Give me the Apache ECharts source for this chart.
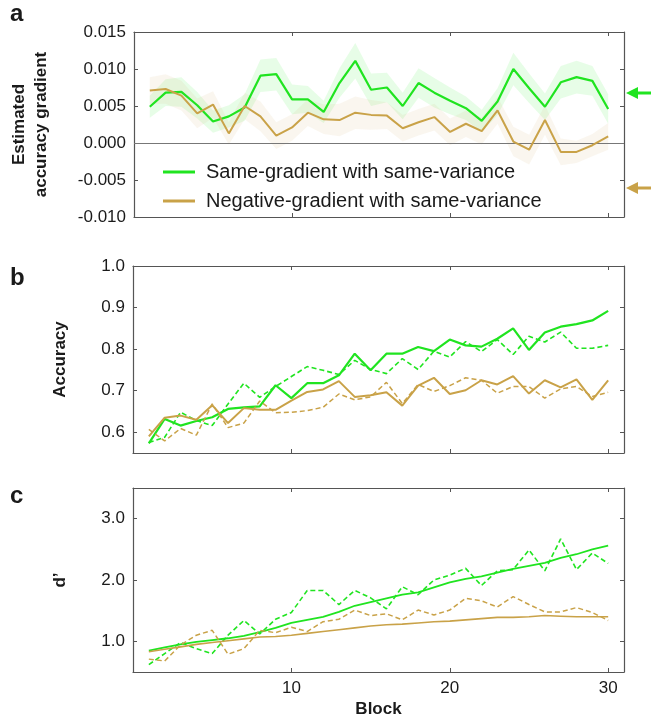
<!DOCTYPE html>
<html>
<head>
<meta charset="utf-8">
<script src="https://cdn.jsdelivr.net/npm/echarts@6/dist/echarts.min.js"></script>
<style>
html, body { margin: 0; padding: 0; background: #fff; }
#main { width: 651px; height: 719px; }
</style>
</head>
<body>
<div id="main"></div>
<script>
var blocks = [1,2,3,4,5,6,7,8,9,10,11,12,13,14,15,16,17,18,19,20,21,22,23,24,25,26,27,28,29,30];
var xTicks = [10, 20, 30];

// a: estimated accuracy gradient
var gradSame = [0.0049,0.0068,0.0069,0.0051,0.0029,0.0036,0.0048,0.0091,0.0093,0.0059,0.0059,0.0042,0.0081,0.0111,0.0072,0.0075,0.0050,0.0081,0.0068,0.0057,0.0047,0.0030,0.0056,0.0100,0.0074,0.0049,0.0082,0.0089,0.0084,0.0046];
var gradSameErr = [0.0015,0.0018,0.0020,0.0018,0.0015,0.0015,0.0018,0.0022,0.0022,0.0020,0.0018,0.0015,0.0020,0.0024,0.0022,0.0020,0.0018,0.0020,0.0020,0.0018,0.0016,0.0015,0.0018,0.0022,0.0020,0.0018,0.0022,0.0022,0.0020,0.0020];
var gradNeg = [0.0071,0.0073,0.0064,0.0040,0.0052,0.0013,0.0050,0.0036,0.0010,0.0021,0.0041,0.0032,0.0031,0.0041,0.0038,0.0037,0.0020,0.0028,0.0035,0.0015,0.0026,0.0016,0.0044,0.0002,-0.0009,0.0031,-0.0012,-0.0012,-0.0003,0.0009];
var gradNegErr = [0.0018,0.0020,0.0020,0.0020,0.0018,0.0015,0.0018,0.0020,0.0018,0.0018,0.0018,0.0020,0.0022,0.0022,0.0020,0.0018,0.0018,0.0018,0.0018,0.0018,0.0018,0.0018,0.0018,0.0020,0.0020,0.0020,0.0018,0.0015,0.0015,0.0018];
var gradTicks = [-0.010, -0.005, 0.000, 0.005, 0.010, 0.015];

// b: accuracy (solid and dashed curves)
var accSame = [0.573,0.632,0.616,0.627,0.636,0.656,0.660,0.662,0.713,0.682,0.718,0.718,0.737,0.789,0.749,0.789,0.789,0.805,0.795,0.823,0.809,0.806,0.825,0.850,0.798,0.840,0.854,0.860,0.869,0.892];
var accSameDash = [0.575,0.588,0.648,0.628,0.616,0.668,0.718,0.684,0.710,0.734,0.758,0.749,0.739,0.773,0.751,0.741,0.777,0.751,0.795,0.781,0.818,0.794,0.823,0.787,0.831,0.817,0.841,0.802,0.802,0.809];
var accNeg = [0.590,0.635,0.640,0.630,0.665,0.622,0.658,0.654,0.654,0.676,0.697,0.703,0.723,0.685,0.689,0.696,0.664,0.712,0.731,0.692,0.701,0.725,0.715,0.735,0.693,0.725,0.708,0.727,0.678,0.725];
var accNegDash = [0.607,0.579,0.609,0.593,0.668,0.611,0.622,0.675,0.647,0.648,0.652,0.660,0.692,0.678,0.685,0.720,0.669,0.715,0.698,0.712,0.731,0.725,0.694,0.710,0.710,0.682,0.704,0.710,0.686,0.696];
var accTicks = [0.6, 0.7, 0.8, 0.9, 1.0];

// c: d'
var dSame = [0.85,0.90,0.95,0.99,1.02,1.05,1.09,1.15,1.22,1.30,1.35,1.40,1.48,1.58,1.64,1.70,1.76,1.80,1.88,1.96,2.02,2.06,2.12,2.18,2.23,2.28,2.36,2.42,2.50,2.56];
var dSameDash = [0.62,0.80,0.98,0.88,0.80,1.10,1.34,1.12,1.36,1.47,1.83,1.83,1.60,1.83,1.71,1.53,1.89,1.76,2.00,2.08,2.19,1.91,2.15,2.17,2.49,2.15,2.67,2.17,2.44,2.27];
var dNeg = [0.83,0.87,0.91,0.95,0.98,1.01,1.04,1.07,1.08,1.10,1.13,1.16,1.19,1.22,1.25,1.27,1.28,1.30,1.32,1.33,1.35,1.37,1.39,1.39,1.40,1.42,1.41,1.40,1.40,1.40];
var dNegDash = [0.71,0.68,0.94,1.10,1.18,0.79,0.88,1.18,1.14,1.23,1.16,1.32,1.36,1.51,1.42,1.45,1.35,1.51,1.43,1.51,1.70,1.66,1.56,1.73,1.60,1.48,1.48,1.55,1.47,1.34];
var dTicks = [1, 2, 3];

var legendNames = ['Same-gradient with same-variance', 'Negative-gradient with same-variance'];

var GREEN = '#20e420';
var TAN = '#c9a248';
var FONT = 'Arial, "Liberation Sans", sans-serif';
var INK = '#1a1a1a';
var FRAME = '#555';

var myChart = echarts.init(document.getElementById('main'));

function pairs(ys) {
    return blocks.map(function (b, i) { return [b, ys[i]]; });
}

function xAxes(gi, showLabels) {
    var base = {
        type: 'value', gridIndex: gi, min: 0, max: 31,
        splitLine: { show: false },
        axisLine: { show: true, onZero: false, lineStyle: { color: FRAME, width: 1.2 } },
        axisTick: { show: true, inside: true, length: 4, customValues: xTicks, lineStyle: { color: FRAME } }
    };
    var bottom = echarts.util.merge({
        position: 'bottom',
        axisLabel: { show: showLabels, customValues: xTicks, fontSize: 17, color: INK, fontFamily: FONT, margin: 8 }
    }, base, true);
    if (showLabels) {
        bottom.name = 'Block';
        bottom.nameLocation = 'middle';
        bottom.nameGap = 29;
        bottom.nameTextStyle = { fontSize: 17, fontWeight: 'bold', color: INK, fontFamily: FONT };
    }
    var top = echarts.util.merge({ position: 'top', axisLabel: { show: false } }, base, true);
    return [bottom, top];
}

function yAxes(gi, min, max, ticks, digits, name, nameGap) {
    var base = {
        type: 'value', gridIndex: gi, min: min, max: max,
        splitLine: { show: false },
        axisLine: { show: true, onZero: false, lineStyle: { color: FRAME, width: 1.2 } },
        axisTick: { show: true, inside: true, length: 4, customValues: ticks, lineStyle: { color: FRAME } }
    };
    var left = echarts.util.merge({
        position: 'left',
        name: name,
        nameLocation: 'middle',
        nameGap: nameGap,
        nameTextStyle: { fontSize: 17, fontWeight: 'bold', color: INK, fontFamily: FONT, lineHeight: 22 },
        axisLabel: {
            customValues: ticks, fontSize: 17, color: INK, fontFamily: FONT, margin: 8,
            formatter: function (v) { return v.toFixed(digits); }
        }
    }, base, true);
    var right = echarts.util.merge({ position: 'right', axisLabel: { show: false } }, base, true);
    return [left, right];
}

function line(name, ys, color, dashed, width, gi) {
    return {
        name: name,
        type: 'line',
        xAxisIndex: gi * 2,
        yAxisIndex: gi * 2,
        data: pairs(ys),
        showSymbol: false,
        symbol: 'none',
        silent: true,
        z: 5,
        lineStyle: { color: color, width: width, type: dashed ? [5, 3] : 'solid' },
        itemStyle: { color: color }
    };
}

// shaded error band drawn as one polygon (upper edge forward, lower edge back)
function band(ys, err, fill) {
    return {
        type: 'custom',
        xAxisIndex: 0,
        yAxisIndex: 0,
        silent: true,
        z: 1,
        data: pairs(ys),
        clip: true,
        renderItem: function (params, api) {
            if (params.dataIndex !== 0) return null;
            var pts = [];
            for (var i = 0; i < blocks.length; i++) {
                pts.push(api.coord([blocks[i], ys[i] + err[i]]));
            }
            for (var j = blocks.length - 1; j >= 0; j--) {
                pts.push(api.coord([blocks[j], ys[j] - err[j]]));
            }
            return { type: 'polygon', shape: { points: pts }, style: { fill: fill } };
        }
    };
}

var gradSameLine = line(legendNames[0], gradSame, GREEN, false, 2.2, 0);
var gradNegLine = line(legendNames[1], gradNeg, TAN, false, 2, 0);
gradNegLine.markLine = {
    silent: true, symbol: 'none', label: { show: false },
    lineStyle: { color: '#777', width: 1, type: 'solid' },
    data: [{ yAxis: 0 }]
};

function arrow(y, color) {
    return {
        type: 'group',
        children: [
            { type: 'polygon', shape: { points: [[626, y], [638, y - 6], [638, y + 6]] }, style: { fill: color } },
            { type: 'rect', shape: { x: 636, y: y - 1.5, width: 15, height: 3 }, style: { fill: color } }
        ]
    };
}

function letter(txt, y) {
    return {
        type: 'text', left: 10, top: y,
        style: { text: txt, fontSize: 24, fontWeight: 'bold', fill: INK, fontFamily: FONT }
    };
}

option = {
    backgroundColor: '#fff',
    animation: false,
    textStyle: { fontFamily: FONT },
    grid: [
        { left: 133, right: 27, top: 32, height: 185 },
        { left: 133, right: 27, top: 266, height: 187 },
        { left: 133, right: 27, top: 488, height: 185 }
    ],
    xAxis: [].concat(xAxes(0, false), xAxes(1, false), xAxes(2, true)),
    yAxis: [].concat(
        yAxes(0, -0.010, 0.015, gradTicks, 3, 'Estimated\naccuracy gradient', 82),
        yAxes(1, 0.55, 1.0, accTicks, 1, 'Accuracy', 62),
        yAxes(2, 0.5, 3.5, dTicks, 1, 'd\u2019', 62)
    ),
    legend: {
        data: legendNames,
        orient: 'vertical',
        left: 158,
        top: 157,
        itemWidth: 32,
        itemHeight: 3,
        itemGap: 9,
        icon: 'rect',
        selectedMode: false,
        textStyle: { fontSize: 20, color: INK, fontFamily: FONT, padding: [0, 0, 0, 6] }
    },
    graphic: [
        letter('a', 2),
        letter('b', 266),
        letter('c', 484),
        arrow(93, GREEN),
        arrow(188, TAN)
    ],
    series: [
        band(gradSame, gradSameErr, 'rgba(60,235,60,0.12)'),
        band(gradNeg, gradNegErr, 'rgba(210,180,120,0.12)'),
        gradSameLine,
        gradNegLine,
        line('accSame', accSame, GREEN, false, 2.2, 1),
        line('accSameDash', accSameDash, GREEN, true, 1.6, 1),
        line('accNeg', accNeg, TAN, false, 2, 1),
        line('accNegDash', accNegDash, TAN, true, 1.5, 1),
        line('dSame', dSame, GREEN, false, 1.8, 2),
        line('dSameDash', dSameDash, GREEN, true, 1.6, 2),
        line('dNeg', dNeg, TAN, false, 1.6, 2),
        line('dNegDash', dNegDash, TAN, true, 1.5, 2)
    ]
};

myChart.setOption(option);
</script>
</body>
</html>
